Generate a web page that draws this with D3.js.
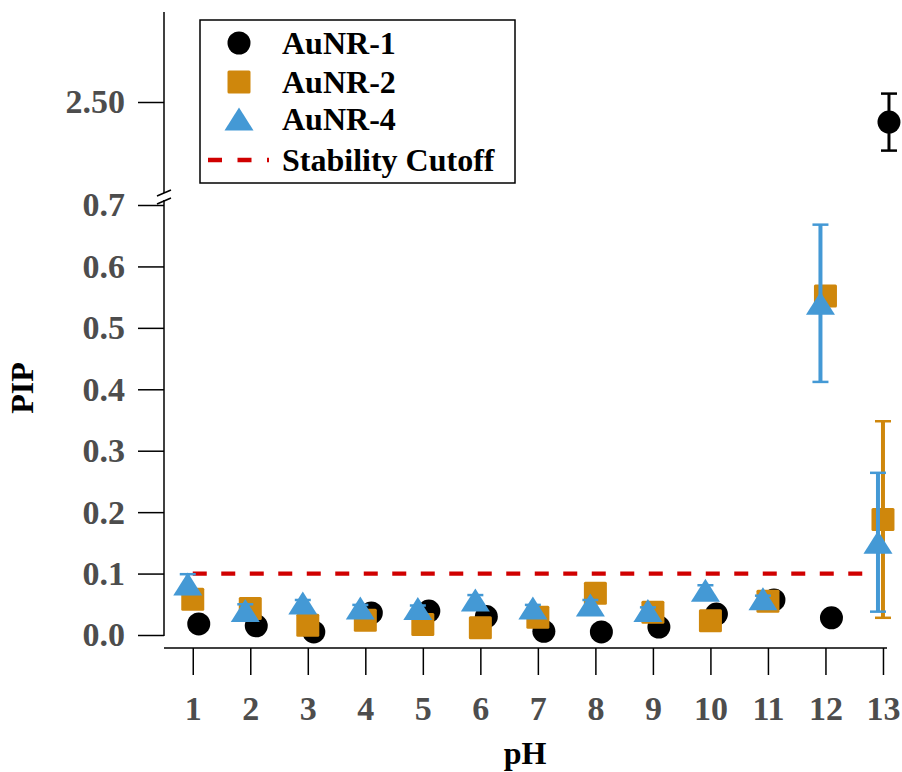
<!DOCTYPE html>
<html>
<head>
<meta charset="utf-8">
<script src="https://cdn.jsdelivr.net/npm/d3@7"></script>
<style>
  body { margin: 0; background: #fff; }
  text { font-family: "Liberation Serif", "Times New Roman", serif; font-weight: bold; }
</style>
</head>
<body>
<svg id="chart" width="902" height="772"></svg>
<script>
// pH values on the x axis
const phValues = [1, 2, 3, 4, 5, 6, 7, 8, 9, 10, 11, 12, 13];

// PIP per series
const aunr1 = [0.018, 0.015, 0.005, 0.036, 0.039, 0.030, 0.006, 0.005, 0.013, 0.034, 0.057, 0.028, 2.433];
const aunr1Err = [0, 0, 0, 0, 0, 0, 0, 0, 0, 0, 0, 0, 0.095];
const aunr2 = [0.058, 0.043, 0.016, 0.024, 0.017, 0.012, 0.029, 0.068, 0.037, 0.023, 0.055, 0.552, 0.188];
const aunr2Err = [0.004, 0.004, 0.004, 0.004, 0.004, 0.004, 0.004, 0.004, 0.01, 0.004, 0.004, 0.004, 0.16];
const aunr4 = [0.083, 0.040, 0.052, 0.044, 0.043, 0.057, 0.044, 0.049, 0.040, 0.073, 0.059, 0.540, 0.151];
const aunr4Err = [0.016, 0.01, 0.005, 0.005, 0.005, 0.008, 0.005, 0.008, 0.005, 0.008, 0.005, 0.128, 0.113];

const cutoff = 0.1;

// tick labels
const xTicks = phValues;
const yLowTicks = [0, 0.1, 0.2, 0.3, 0.4, 0.5, 0.6, 0.7];
const yHighTicks = [2.5];

const legendLabels = ["AuNR-1", "AuNR-2", "AuNR-4", "Stability Cutoff"];

const black = "#000";
const orange = "#cf870c";
const blue = "#4499d5";
const red = "#d00000";
const tickGrey = "#4d4d4d";

const svg = d3.select("#chart");

const axisX = 164;
const x = d3.scaleLinear().domain([0.5, 13.07]).range([164, 887]);
const yLow = d3.scaleLinear().domain([0, 0.7]).range([635, 205]);
const yHigh = d3.scaleLinear().domain([2.2, 2.8]).range([192, 12]);
const y = v => v > 1 ? yHigh(v) : yLow(v);

// ---- axes ----
const styleAxis = (g) => {
  g.select(".domain").remove();
  g.selectAll(".tick line").attr("stroke", black).attr("stroke-width", 1.5);
  g.selectAll(".tick text")
    .attr("fill", tickGrey)
    .style("font-size", "34px");
};

svg.append("g")
  .attr("transform", `translate(${axisX},0)`)
  .call(d3.axisLeft(yLow).tickValues(yLowTicks).tickFormat(d3.format(".1f")).tickSize(26).tickPadding(13))
  .call(styleAxis);

svg.append("g")
  .attr("transform", `translate(${axisX},0)`)
  .call(d3.axisLeft(yHigh).tickValues(yHighTicks).tickFormat(d3.format(".2f")).tickSize(26).tickPadding(13))
  .call(styleAxis);

// y axis line with a break
svg.append("line").attr("x1", axisX).attr("x2", axisX).attr("y1", 12).attr("y2", 193)
  .attr("stroke", black).attr("stroke-width", 1.5);
svg.append("line").attr("x1", axisX).attr("x2", axisX).attr("y1", 200).attr("y2", 636)
  .attr("stroke", black).attr("stroke-width", 1.5);
[193, 201].forEach(by => {
  svg.append("line")
    .attr("x1", axisX - 7).attr("y1", by + 3)
    .attr("x2", axisX + 7).attr("y2", by - 3)
    .attr("stroke", black).attr("stroke-width", 1.5);
});

const xAxisY = 648;
svg.append("g")
  .attr("transform", `translate(0,${xAxisY})`)
  .call(d3.axisBottom(x).tickValues(xTicks).tickFormat(d3.format("d")).tickSize(27).tickPadding(21))
  .call(styleAxis);
svg.append("line").attr("x1", 164).attr("x2", 887).attr("y1", xAxisY).attr("y2", xAxisY)
  .attr("stroke", black).attr("stroke-width", 1.5);

// axis titles
svg.append("text")
  .attr("x", 525).attr("y", 764)
  .attr("text-anchor", "middle")
  .style("font-size", "32px")
  .attr("fill", black)
  .text("pH");

svg.append("text")
  .attr("transform", "translate(33,388) rotate(-90)")
  .attr("text-anchor", "middle")
  .style("font-size", "32px")
  .attr("fill", black)
  .text("PIP");

// ---- stability cutoff ----
svg.append("line")
  .attr("x1", x(1)).attr("x2", x(12.8))
  .attr("y1", y(cutoff)).attr("y2", y(cutoff))
  .attr("stroke", red).attr("stroke-width", 4.3)
  .attr("stroke-dasharray", "14,14.5");

// ---- markers ----
const trianglePath = (w, h) => `M0,${-h / 2}L${w / 2},${h / 2}L${-w / 2},${h / 2}Z`;

const series = [
  { vals: aunr1, errs: aunr1Err, color: black, shape: "circle", dx: 6, barW: 3 },
  { vals: aunr2, errs: aunr2Err, color: orange, shape: "square", dx: 0, barW: 4 },
  { vals: aunr4, errs: aunr4Err, color: blue, shape: "triangle", dx: -5, barW: 4 }
];

const drawMarker = (g, shape, color) => {
  if (shape === "circle") {
    g.append("circle").attr("r", 11.5).attr("fill", color);
  } else if (shape === "square") {
    g.append("rect").attr("x", -11.5).attr("y", -11.5).attr("width", 23).attr("height", 23)
      .attr("rx", 1.5).attr("fill", color);
  } else {
    g.append("path").attr("d", trianglePath(29, 23)).attr("fill", color);
  }
};

series.forEach(s => {
  const pts = phValues.map((p, i) => ({ p, v: s.vals[i], e: s.errs[i] }));
  const bars = svg.append("g");
  pts.filter(d => d.e > 0).forEach(d => {
    const cx = x(d.p) + s.dx;
    const top = y(d.v + d.e), bot = y(d.v - d.e);
    bars.append("line").attr("x1", cx).attr("x2", cx).attr("y1", top).attr("y2", bot)
      .attr("stroke", s.color).attr("stroke-width", s.barW);
    [top, bot].forEach(cy => {
      bars.append("line").attr("x1", cx - 8).attr("x2", cx + 8).attr("y1", cy).attr("y2", cy)
        .attr("stroke", s.color).attr("stroke-width", 2.5);
    });
  });
  pts.forEach(d => {
    const g = svg.append("g").attr("transform", `translate(${x(d.p) + s.dx},${y(d.v)})`);
    drawMarker(g, s.shape, s.color);
  });
});

// ---- legend ----
const legend = svg.append("g");
legend.append("rect")
  .attr("x", 200).attr("y", 20).attr("width", 315).attr("height", 163)
  .attr("fill", "#fff").attr("stroke", black).attr("stroke-width", 1.5);

const legendRows = [43, 82, 119, 160];
series.forEach((s, i) => {
  const g = legend.append("g").attr("transform", `translate(239,${legendRows[i]})`);
  drawMarker(g, s.shape, s.color);
});
legend.append("line")
  .attr("x1", 208).attr("x2", 269).attr("y1", legendRows[3]).attr("y2", legendRows[3])
  .attr("stroke", red).attr("stroke-width", 4.3)
  .attr("stroke-dasharray", "14,15.5");

legendLabels.forEach((lab, i) => {
  legend.append("text")
    .attr("x", 282).attr("y", legendRows[i] + 11)
    .style("font-size", "32px")
    .attr("fill", black)
    .text(lab);
});
</script>
</body>
</html>
